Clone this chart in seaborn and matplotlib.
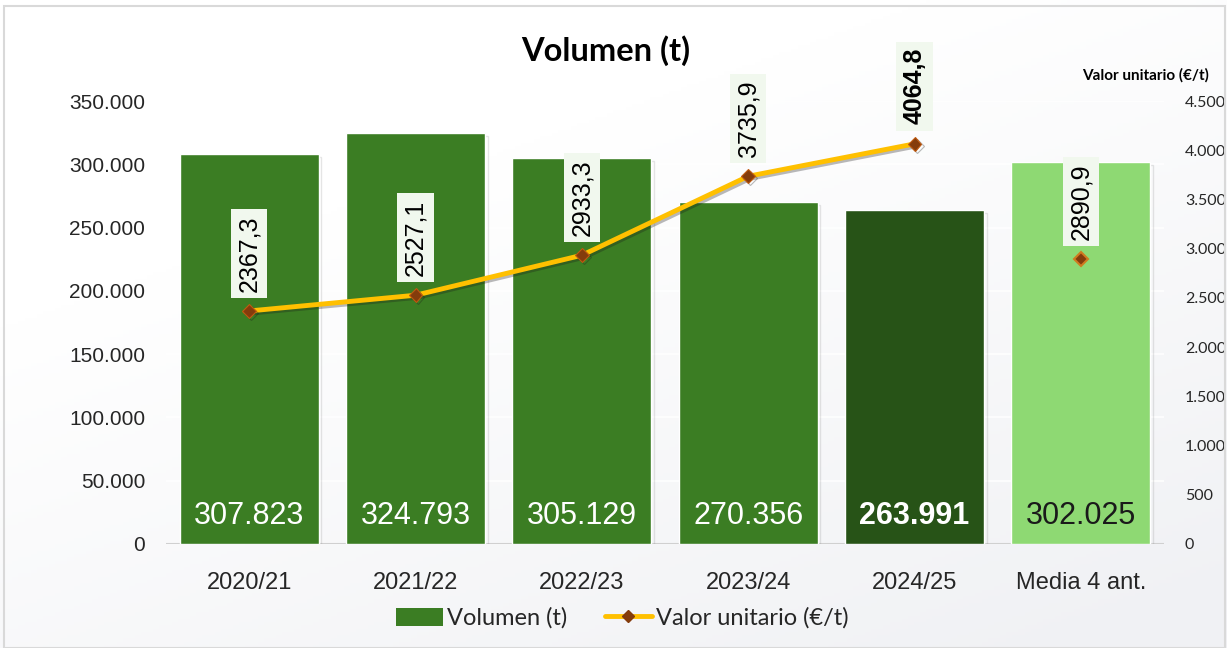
import numpy as np
import pandas as pd
import matplotlib
matplotlib.use("Agg")
import matplotlib.pyplot as plt
import matplotlib.patheffects as pe
import seaborn as sns

categories = ["2020/21", "2021/22", "2022/23", "2023/24", "2024/25", "Media 4 ant."]
volumen = [307823, 324793, 305129, 270356, 263991, 302025]
valor_unitario = [2367.3, 2527.1, 2933.3, 3735.9, 4064.8, 2890.9]
vol_labels = ["307.823", "324.793", "305.129", "270.356", "263.991", "302.025"]
val_labels = ["2367,3", "2527,1", "2933,3", "3735,9", "4064,8", "2890,9"]
left_ticks = [0, 50000, 100000, 150000, 200000, 250000, 300000, 350000]
left_ticklabels = ["0", "50.000", "100.000", "150.000", "200.000", "250.000", "300.000", "350.000"]
right_ticks = [0, 500, 1000, 1500, 2000, 2500, 3000, 3500, 4000, 4500]
right_ticklabels = ["0", "500", "1.000", "1.500", "2.000", "2.500", "3.000", "3.500", "4.000", "4.500"]

bar_colors = ["#3B7D23", "#3B7D23", "#3B7D23", "#3B7D23", "#275317", "#8ED973"]
label_colors = ["white", "white", "white", "white", "white", "#1a1a1a"]
label_bold = [False, False, False, False, True, False]
val_bold = [False, False, False, False, True, False]

sns.set_theme(style="white")
plt.rcParams['font.family'] = ['Liberation Sans', 'DejaVu Sans']

fig = plt.figure(figsize=(12.27, 6.48), dpi=100)

# background gradient
bg = fig.add_axes([0, 0, 1, 1], zorder=-10)
yy, xx = np.mgrid[0:1:200j, 0:1:200j]
grad = np.clip((xx * 0.6 + yy * 0.9) - 0.45, 0, 1)
bg.imshow(grad, cmap=matplotlib.colors.LinearSegmentedColormap.from_list("g", ["#FFFFFF", "#F0F1F4"]),
          extent=[0, 1, 0, 1], aspect="auto", origin="upper", vmin=0, vmax=1)
bg.axis("off")
fig.patches.append(matplotlib.patches.Rectangle((0.003, 0.0), 0.995, 0.99, transform=fig.transFigure,
                                                fill=False, edgecolor="#D9D9D9", linewidth=1.5))

ax = fig.add_axes([0.1353, 0.1605, 0.8134, 0.6836])
ax.patch.set_alpha(0)

df = pd.DataFrame({"cat": categories, "vol": volumen})
sns.barplot(data=df, x="cat", y="vol", hue="cat", palette=bar_colors, legend=False,
            width=0.835, ax=ax, zorder=3, saturation=1)
for p in ax.patches:
    p.set_path_effects([pe.SimpleLineShadow(offset=(2, -2), alpha=0.2, shadow_color="gray"), pe.Normal()])

ax.set_ylim(0, 350000)
ax.set_xlim(-0.5, 5.5)
ax.set_yticks(left_ticks)
ax.set_yticklabels(left_ticklabels, fontsize=15, color="#262626")
ax.tick_params(axis="x", labelsize=17, colors="#262626", pad=14)
ax.tick_params(axis="y", pad=15, length=0)
ax.set_xlabel("")
ax.set_ylabel("")
for s in ax.spines.values():
    s.set_visible(False)
ax.axhline(0, color="#D0D0D0", linewidth=1.5, zorder=2)
ax.yaxis.grid(True, color="white", linewidth=1.2, alpha=0.9, zorder=0)

for i, (lab, c, b) in enumerate(zip(vol_labels, label_colors, label_bold)):
    ax.text(i, 22000, lab, ha="center", va="center", fontsize=22, color=c,
            fontweight="bold" if b else "normal", zorder=6)

ax2 = ax.twinx()
ax2.set_ylim(0, 4500)
ax2.set_yticks(right_ticks)
ax2.set_yticklabels(right_ticklabels, fontsize=11.5, color="#262626", family=["Lato", "DejaVu Sans"])
ax2.tick_params(axis="y", length=0, pad=15)
for s in ax2.spines.values():
    s.set_visible(False)
ax2.grid(False)

line_df = pd.DataFrame({"x": list(range(5)), "v": valor_unitario[:5]})
sns.lineplot(data=line_df, x="x", y="v", ax=ax2, color="#FFC000", linewidth=3.5,
             marker="D", markersize=7, markerfacecolor="#843C0C", markeredgecolor="#C05A10",
             markeredgewidth=0.8, zorder=5,
             path_effects=[pe.SimpleLineShadow(offset=(1.5, -1.5), alpha=0.3), pe.Normal()])
ax2.plot([5], [valor_unitario[5]], linestyle="none", marker="D", markersize=7,
         markerfacecolor="#843C0C", markeredgecolor="#D07A20", markeredgewidth=1.5, zorder=5)
ax2.set_xlabel("")
ax2.set_ylabel("")

for i, (lab, v, b) in enumerate(zip(val_labels, valor_unitario, val_bold)):
    ax2.annotate(lab, xy=(i, v), xytext=(0, 14), textcoords="offset points",
                 rotation=90, ha="center", va="bottom", fontsize=18, color="black",
                 fontweight="bold" if b else "normal", zorder=7,
                 bbox=dict(boxstyle="square,pad=0.25", facecolor="#F1F8EE", edgecolor="none"))

fig.text(0.494, 0.922, "Volumen (t)", ha="center", va="center", fontsize=23.5, fontweight="bold",
         color="black", family=["Lato", "DejaVu Sans"])
fig.text(0.882, 0.884, "Valor unitario (€/t)", ha="left", va="center", fontsize=11, fontweight="bold",
         color="black", family=["Lato", "DejaVu Sans"])

from matplotlib.patches import Patch
from matplotlib.lines import Line2D
handles = [Patch(facecolor="#3B7D23", edgecolor="none"),
           Line2D([0], [0], color="#FFC000", linewidth=3.5, marker="D", markersize=6,
                  markerfacecolor="#843C0C", markeredgecolor="#843C0C")]
fig.legend(handles, ["Volumen (t)", "Valor unitario (€/t)"], loc="center", bbox_to_anchor=(0.507, 0.046),
           ncol=2, frameon=False, prop={"family": ["Lato", "DejaVu Sans"], "size": 17},
           handlelength=2.0, handleheight=0.8, columnspacing=1.6, handletextpad=0.15)

fig.savefig("out.png", dpi=100)
